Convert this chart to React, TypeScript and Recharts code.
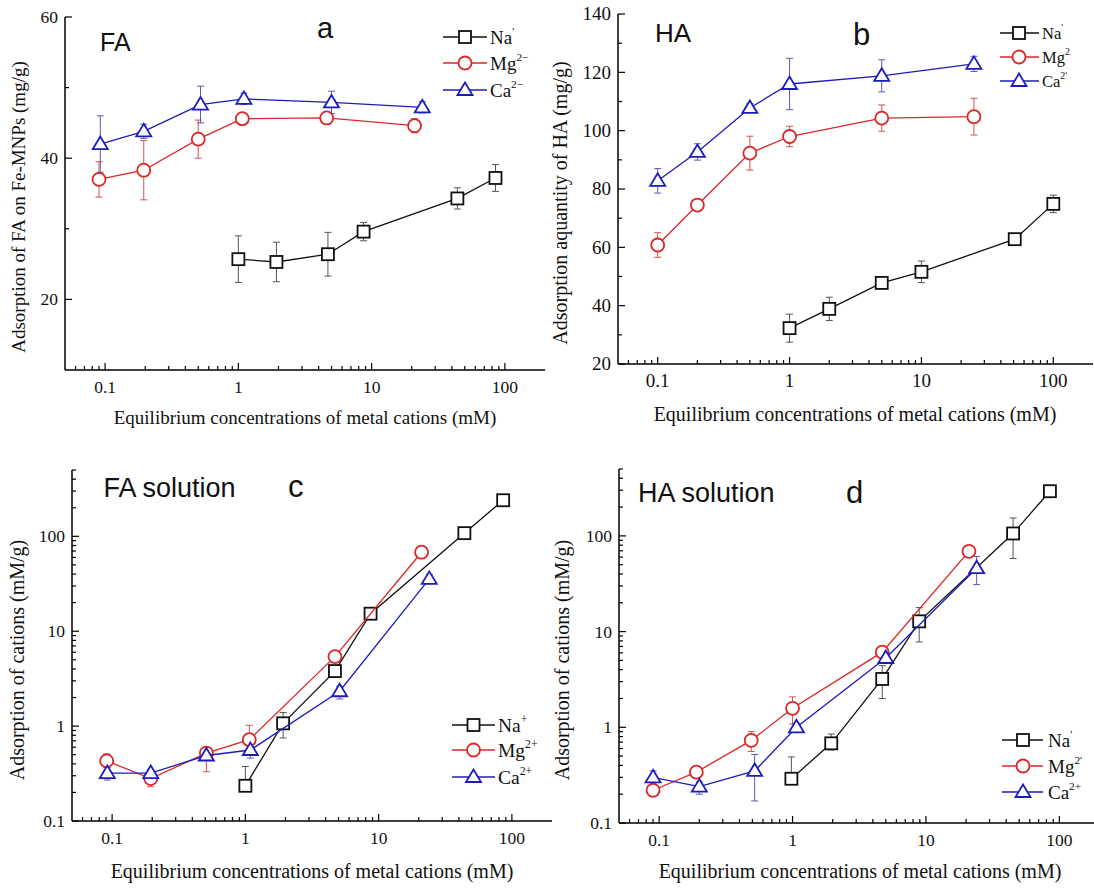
import React from 'react';
import { ComposedChart, Scatter, XAxis, YAxis, ErrorBar } from 'recharts';

const SERIF = '"Liberation Serif", "Times New Roman", serif';
const SANS = '"Liberation Sans", Arial, sans-serif';
const BLACK = '#101010';
const RED = '#dc2626';
const BLUE = '#1c1cbc';

type Err = number | [number, number];
type Shape = 'square' | 'circle' | 'triangle';

// ---------- Panel a : FA on Fe-MNPs ----------
const naXa = [1.0, 1.93, 4.7, 8.7, 44, 85];
const naYa = [25.7, 25.3, 26.4, 29.6, 34.3, 37.2];
const naEa: Err[] = [3.3, 2.8, 3.1, 1.3, 1.5, 1.9];
const mgXa = [0.09, 0.195, 0.5, 1.07, 4.6, 21];
const mgYa = [37.0, 38.3, 42.7, 45.6, 45.7, 44.6];
const mgEa: Err[] = [2.5, 4.2, 2.7, 0.5, 0.5, 1.0];
const caXa = [0.092, 0.195, 0.52, 1.1, 5.0, 24];
const caYa = [42.0, 43.8, 47.6, 48.4, 47.9, 47.2];
const caEa: Err[] = [4.0, 1.0, 2.6, 0.8, 1.6, 0.8];

// ---------- Panel b : HA ----------
const naXb = [1, 2, 5, 10, 51, 100];
const naYb = [32.3, 38.9, 47.8, 51.6, 62.8, 74.9];
const naEb: Err[] = [4.8, 4, 1.5, 3.7, 1, 3];
const mgXb = [0.1, 0.2, 0.5, 1, 5, 25];
const mgYb = [60.8, 74.5, 92.3, 98, 104.3, 104.8];
const mgEb: Err[] = [4.2, 1, 5.8, 3.5, 4.5, 6.3];
const caXb = [0.1, 0.2, 0.5, 1, 5, 25];
const caYb = [82.8, 92.7, 107.8, 116, 118.8, 122.9];
const caEb: Err[] = [4.2, 2.8, 1.5, 8.8, 5.5, 2.6];

// ---------- Panel c : FA solution ----------
const naXc = [1.0, 1.92, 4.7, 8.7, 44, 86];
const naYc = [0.235, 1.07, 3.8, 15.3, 108, 240];
const naEc: Err[] = [[0, 0.14], [0.32, 0.32], [0.3, 0.3], [1, 1], [8, 8], [20, 20]];
const mgXc = [0.091, 0.195, 0.51, 1.07, 4.7, 21];
const mgYc = [0.43, 0.28, 0.52, 0.72, 5.4, 68];
const mgEc: Err[] = [[0.06, 0.08], [0.05, 0.03], [0.19, 0.05], [0.22, 0.3], [0.5, 0.5], [6, 6]];
const caXc = [0.092, 0.195, 0.51, 1.09, 5.1, 24];
const caYc = [0.32, 0.32, 0.49, 0.56, 2.33, 35.6];
const caEc: Err[] = [[0.05, 0.05], [0.03, 0.03], [0.05, 0.05], [0.1, 0.1], [0.4, 0.3], [4, 4]];

// ---------- Panel d : HA solution ----------
const naXd = [0.98, 1.95, 4.7, 8.9, 45, 85];
const naYd = [0.29, 0.68, 3.2, 12.8, 106, 293];
const naEd: Err[] = [[0, 0.2], [0.1, 0.17], [1.2, 1.2], [5, 5], [48, 48], [10, 10]];
const mgXd = [0.09, 0.19, 0.49, 1.0, 4.7, 21];
const mgYd = [0.22, 0.34, 0.73, 1.58, 6.1, 69];
const mgEd: Err[] = [[0.02, 0.02], [0.03, 0.03], [0.17, 0.17], [0.5, 0.5], [0.5, 0.5], [5, 5]];
const caXd = [0.09, 0.2, 0.52, 1.07, 5.0, 24];
const caYd = [0.30, 0.24, 0.35, 1.0, 5.3, 46];
const caEd: Err[] = [[0.05, 0.05], [0.04, 0.03], [0.18, 0.17], [0.1, 0.1], [0.6, 0.6], [15, 15]];

// ---------- ticks ----------
const X_MAJOR = [0.1, 1, 10, 100];
const X_MINOR = [0.06, 0.07, 0.08, 0.09, 0.2, 0.3, 0.4, 0.5, 0.6, 0.7, 0.8, 0.9, 2, 3, 4, 5, 6, 7, 8, 9, 20, 30, 40, 50, 60, 70, 80, 90];
const YA_MAJOR = [20, 40, 60];
const YA_MINOR = [30, 50];
const YB_MAJOR = [20, 40, 60, 80, 100, 120, 140];
const YB_MINOR = [30, 50, 70, 90, 110, 130];
const YLOG_MAJOR = [0.1, 1, 10, 100];
const YLOG_MINOR = [0.2, 0.3, 0.4, 0.5, 0.6, 0.7, 0.8, 0.9, 2, 3, 4, 5, 6, 7, 8, 9, 20, 30, 40, 50, 60, 70, 80, 90, 200, 300, 400, 500];

const X_TITLE = 'Equilibrium concentrations of metal cations (mM)';

interface SeriesDef {
  base: string;
  sup: string;
  color: string;
  errColor: string;
  shape: Shape;
  xs: number[];
  ys: number[];
  errs: Err[];
}

const mk = (base: string, sup: string, color: string, errColor: string, shape: Shape, xs: number[], ys: number[], errs: Err[]): SeriesDef =>
  ({ base, sup, color, errColor, shape, xs, ys, errs });

interface PanelDef {
  key: string;
  plot: { x: number; y: number; w: number; h: number };
  yScale: 'linear' | 'log';
  yDomain: [number, number];
  yMajor: number[];
  yMinor: number[];
  tickFont: number;
  series: SeriesDef[];
  title: { text: string; x: number; y: number; size: number };
  letter: { text: string; x: number; y: number; size: number };
  xTitle: { cx: number; y: number; size: number };
  yTitle: { text: string; cx: number; cy: number; size: number };
  legend: { x1: number; x2: number; mx: number; tx: number; rows: number[]; size: number };
}

const PANELS: PanelDef[] = [
  {
    key: 'a',
    plot: { x: 65.3, y: 17, w: 480, h: 353 },
    yScale: 'linear', yDomain: [10, 60], yMajor: YA_MAJOR, yMinor: YA_MINOR, tickFont: 17.5,
    series: [
      mk('Na', "'", BLACK, '#555', 'square', naXa, naYa, naEa),
      mk('Mg', '2\u2212', RED, '#d85050', 'circle', mgXa, mgYa, mgEa),
      mk('Ca', '2\u2212', BLUE, '#5a5ab8', 'triangle', caXa, caYa, caEa),
    ],
    title: { text: 'FA', x: 100, y: 51, size: 25 },
    letter: { text: 'a', x: 317, y: 38, size: 29 },
    xTitle: { cx: 305, y: 424, size: 19 },
    yTitle: { text: 'Adsorption of FA on Fe-MNPs (mg/g)', cx: 19, cy: 207, size: 19 },
    legend: { x1: 443, x2: 487, mx: 465, tx: 490, rows: [37, 63, 90], size: 19 },
  },
  {
    key: 'b',
    plot: { x: 617.5, y: 14, w: 475, h: 350 },
    yScale: 'linear', yDomain: [20, 140], yMajor: YB_MAJOR, yMinor: YB_MINOR, tickFont: 19,
    series: [
      mk('Na', "'", BLACK, '#555', 'square', naXb, naYb, naEb),
      mk('Mg', '2', RED, '#d85050', 'circle', mgXb, mgYb, mgEb),
      mk('Ca', "2'", BLUE, '#5a5ab8', 'triangle', caXb, caYb, caEb),
    ],
    title: { text: 'HA', x: 655, y: 42, size: 26 },
    letter: { text: 'b', x: 853, y: 45, size: 31 },
    xTitle: { cx: 855, y: 421, size: 20 },
    yTitle: { text: 'Adsorption aquantity of HA (mg/g)', cx: 561, cy: 203, size: 20 },
    legend: { x1: 1000, x2: 1039, mx: 1019, tx: 1042, rows: [33, 57, 81], size: 16.5 },
  },
  {
    key: 'c',
    plot: { x: 71.5, y: 470, w: 480, h: 351 },
    yScale: 'log', yDomain: [0.1, 500], yMajor: YLOG_MAJOR, yMinor: YLOG_MINOR, tickFont: 17.5,
    series: [
      mk('Na', '+', BLACK, '#555', 'square', naXc, naYc, naEc),
      mk('Mg', '2+', RED, '#d85050', 'circle', mgXc, mgYc, mgEc),
      mk('Ca', '2+', BLUE, '#5a5ab8', 'triangle', caXc, caYc, caEc),
    ],
    title: { text: 'FA solution', x: 103.5, y: 497, size: 27 },
    letter: { text: 'c', x: 288, y: 497, size: 31 },
    xTitle: { cx: 312, y: 878, size: 20 },
    yTitle: { text: 'Adsorption of cations (mM/g)', cx: 17.5, cy: 660, size: 20 },
    legend: { x1: 452, x2: 495, mx: 473.5, tx: 498, rows: [725, 750, 777], size: 19.5 },
  },
  {
    key: 'd',
    plot: { x: 618.6, y: 469, w: 480.5, h: 354 },
    yScale: 'log', yDomain: [0.1, 500], yMajor: YLOG_MAJOR, yMinor: YLOG_MINOR, tickFont: 17.5,
    series: [
      mk('Na', "'", BLACK, '#555', 'square', naXd, naYd, naEd),
      mk('Mg', "2'", RED, '#d85050', 'circle', mgXd, mgYd, mgEd),
      mk('Ca', '2+', BLUE, '#5a5ab8', 'triangle', caXd, caYd, caEd),
    ],
    title: { text: 'HA solution', x: 638, y: 502, size: 27 },
    letter: { text: 'd', x: 846, y: 503, size: 31 },
    xTitle: { cx: 860, y: 878, size: 20 },
    yTitle: { text: 'Adsorption of cations (mM/g)', cx: 562.5, cy: 660, size: 20 },
    legend: { x1: 1002, x2: 1043, mx: 1023, tx: 1048, rows: [740, 766, 792], size: 19 },
  },
];

function Marker({ cx, cy, shape, color }: { cx: number; cy: number; shape: Shape; color: string }) {
  if (cx == null || cy == null || isNaN(cx) || isNaN(cy)) return null;
  if (shape === 'square') {
    return <rect x={cx - 6} y={cy - 6} width={12} height={12} fill="#fff" stroke={color} strokeWidth={1.8} />;
  }
  if (shape === 'circle') {
    return <circle cx={cx} cy={cy} r={6.5} fill="#fff" stroke={color} strokeWidth={1.8} />;
  }
  return (
    <polygon
      points={`${cx},${cy - 7.5} ${cx - 7.5},${cy + 5} ${cx + 7.5},${cy + 5}`}
      fill="#fff"
      stroke={color}
      strokeWidth={1.8}
      strokeLinejoin="miter"
    />
  );
}

const fmt = (v: number) => String(v);

function Panel({ p }: { p: PanelDef }) {
  const PADL = 60, PADT = 12, PADR = 12, PADB = 40;
  const w = p.plot.w + PADL + PADR;
  const h = p.plot.h + PADT + PADB;
  const xTicks = [...X_MAJOR, ...X_MINOR].sort((a, b) => a - b);
  const yTicks = [...p.yMajor, ...p.yMinor].sort((a, b) => a - b);

  const xTick = (props: any) => {
    const { x, y, payload } = props;
    const v = payload.value;
    const major = X_MAJOR.includes(v);
    return (
      <g>
        <line x1={x} x2={x} y1={y} y2={y - (major ? 7 : 4)} stroke="#000" strokeWidth={1.2} />
        {major && (
          <text x={x} y={y + 23} textAnchor="middle" fontFamily={SERIF} fontSize={p.tickFont} fill="#111">
            {fmt(v)}
          </text>
        )}
      </g>
    );
  };
  const yTick = (props: any) => {
    const { x, y, payload } = props;
    const v = payload.value;
    const major = p.yMajor.includes(v);
    return (
      <g>
        <line x1={x} x2={x + (major ? 7 : 4)} y1={y} y2={y} stroke="#000" strokeWidth={1.2} />
        {major && (
          <text x={x - 7} y={y + p.tickFont * 0.34} textAnchor="end" fontFamily={SERIF} fontSize={p.tickFont} fill="#111">
            {fmt(v)}
          </text>
        )}
      </g>
    );
  };

  return (
    <div style={{ position: 'absolute', left: p.plot.x - PADL, top: p.plot.y - PADT, width: w, height: h }}>
      <ComposedChart width={w} height={h} margin={{ top: PADT, right: PADR, bottom: 0, left: 0 }}>
        <XAxis
          dataKey="x"
          type="number"
          scale="log"
          domain={[0.05, 200]}
          allowDataOverflow
          ticks={xTicks}
          interval={0}
          tickSize={0}
          tickMargin={0}
          tickLine={false}
          axisLine={{ stroke: '#000', strokeWidth: 1.5 }}
          height={PADB}
          tick={xTick}
        />
        <YAxis
          dataKey="y"
          type="number"
          scale={p.yScale}
          domain={p.yDomain}
          allowDataOverflow
          ticks={yTicks}
          interval={0}
          tickSize={0}
          tickMargin={0}
          tickLine={false}
          axisLine={{ stroke: '#000', strokeWidth: 1.5 }}
          width={PADL}
          tick={yTick}
        />
        {p.series.map((s) => (
          <Scatter
            key={s.base}
            name={s.base}
            data={s.xs.map((x, i) => ({ x, y: s.ys[i], err: s.errs[i] }))}
            dataKey="y"
            fill={s.color}
            isAnimationActive={false}
            line={{ stroke: s.color, strokeWidth: 1.3 }}
            lineJointType="linear"
            shape={(sp: any) => <Marker cx={sp.cx} cy={sp.cy} shape={s.shape} color={s.color} />}
          >
            <ErrorBar dataKey="err" direction="y" width={3.5} stroke={s.errColor} strokeWidth={1} isAnimationActive={false} />
          </Scatter>
        ))}
      </ComposedChart>
    </div>
  );
}

function Overlay() {
  return (
    <svg width={1094} height={888} style={{ position: 'absolute', left: 0, top: 0, pointerEvents: 'none' }}>
      {PANELS.map((p) => (
        <g key={p.key}>
          <text x={p.title.x} y={p.title.y} fontFamily={SANS} fontSize={p.title.size} fill="#111">
            {p.title.text}
          </text>
          <text x={p.letter.x} y={p.letter.y} fontFamily={SANS} fontSize={p.letter.size} fill="#111">
            {p.letter.text}
          </text>
          <text x={p.xTitle.cx} y={p.xTitle.y} textAnchor="middle" fontFamily={SERIF} fontSize={p.xTitle.size} fill="#111">
            {X_TITLE}
          </text>
          <text
            x={p.yTitle.cx}
            y={p.yTitle.cy + 6}
            transform={`rotate(-90 ${p.yTitle.cx} ${p.yTitle.cy})`}
            textAnchor="middle"
            fontFamily={SERIF}
            fontSize={p.yTitle.size}
            fill="#111"
          >
            {p.yTitle.text}
          </text>
          {p.series.map((s, i) => {
            const ry = p.legend.rows[i];
            return (
              <g key={s.base}>
                <line x1={p.legend.x1} x2={p.legend.x2} y1={ry} y2={ry} stroke={s.color} strokeWidth={1.3} />
                <Marker cx={p.legend.mx} cy={ry} shape={s.shape} color={s.color} />
                <text x={p.legend.tx} y={ry + p.legend.size * 0.35} fontFamily={SERIF} fontSize={p.legend.size} fill="#111">
                  {s.base}
                  <tspan dy={-p.legend.size * 0.45} fontSize={p.legend.size * 0.6}>
                    {s.sup}
                  </tspan>
                </text>
              </g>
            );
          })}
        </g>
      ))}
    </svg>
  );
}

export default function App() {
  return (
    <div style={{ position: 'absolute', left: 0, top: 0, width: 1094, height: 888, overflow: 'hidden', background: '#fff' }}>
      {PANELS.map((p) => (
        <Panel key={p.key} p={p} />
      ))}
      <Overlay />
    </div>
  );
}
